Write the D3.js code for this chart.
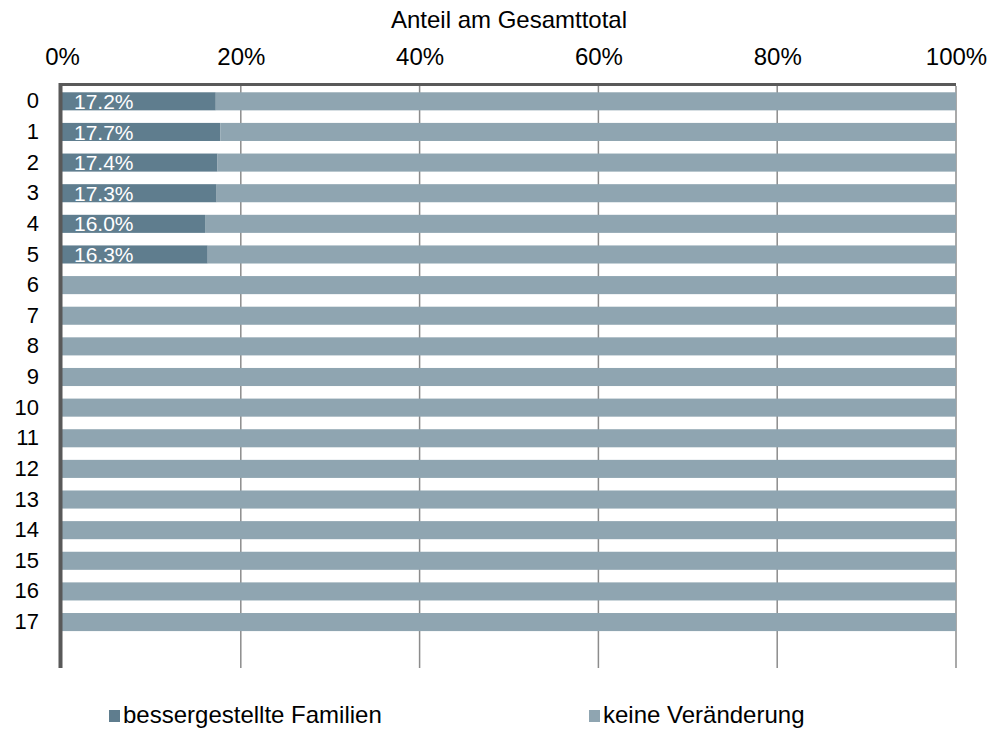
<!DOCTYPE html>
<html>
<head>
<meta charset="utf-8">
<script src="https://cdn.jsdelivr.net/npm/d3@7"></script>
<style>
  body { margin: 0; background: #fff; }
  svg text { font-family: "Liberation Sans", Arial, sans-serif; }
</style>
</head>
<body>
<svg id="chart"></svg>
<script>
// categories 0..17, plus an empty slot at the bottom like the original
const categories = ['0','1','2','3','4','5','6','7','8','9','10','11','12','13','14','15','16','17'];
const bessergestellt = [17.2, 17.7, 17.4, 17.3, 16.0, 16.3, null, null, null, null, null, null, null, null, null, null, null, null];
const keineVeraenderung = bessergestellt.map(v => 100 - (v || 0));
const xTicks = [0, 20, 40, 60, 80, 100];
const seriesNames = ['bessergestellte Familien', 'keine Veränderung'];
const colors = ['#5f7d8e', '#8fa5b1'];

const W = 997, H = 731;
const margin = { top: 86, right: 41, bottom: 63, left: 62 };
const width = W - margin.left - margin.right;
const height = H - margin.top - margin.bottom;

const svg = d3.select('#chart').attr('width', W).attr('height', H);
const g = svg.append('g').attr('transform', `translate(${margin.left},${margin.top})`);

const x = d3.scaleLinear().domain([0, 100]).range([0, width]);
const y = d3.scaleBand()
    .domain(categories.concat(['']))
    .range([0, height])
    .paddingInner(0.41)
    .paddingOuter(0.205);

// vertical grid lines
g.selectAll('.grid')
    .data(xTicks.slice(1))
    .enter()
    .append('line')
    .attr('x1', d => x(d)).attr('x2', d => x(d))
    .attr('y1', 0).attr('y2', height)
    .attr('stroke', '#8c8c8c')
    .attr('stroke-width', 1.5);

// top axis labels
g.append('g')
    .call(d3.axisTop(x).tickValues(xTicks).tickSize(0).tickPadding(21).tickFormat(d => `${d}%`))
    .call(ax => ax.select('.domain').remove())
    .call(ax => ax.selectAll('text').attr('font-size', '24px').attr('fill', '#000')
        .attr('font-family', '"Liberation Sans", Arial, sans-serif'));

// axis title
svg.append('text')
    .attr('x', margin.left + width / 2)
    .attr('y', 28)
    .attr('text-anchor', 'middle')
    .attr('font-size', '24px')
    .attr('fill', '#000')
    .text('Anteil am Gesamttotal');

// bars: dark part
g.selectAll('.bar-dark')
    .data(categories.map((c, i) => ({ c, v: bessergestellt[i] })).filter(d => d.v != null))
    .enter()
    .append('rect')
    .attr('x', x(0))
    .attr('y', d => y(d.c))
    .attr('width', d => x(d.v) - x(0))
    .attr('height', y.bandwidth())
    .attr('fill', colors[0]);

// bars: light part
g.selectAll('.bar-light')
    .data(categories.map((c, i) => ({ c, start: bessergestellt[i] || 0, v: keineVeraenderung[i] })))
    .enter()
    .append('rect')
    .attr('x', d => x(d.start))
    .attr('y', d => y(d.c))
    .attr('width', d => x(d.start + d.v) - x(d.start))
    .attr('height', y.bandwidth())
    .attr('fill', colors[1]);

// value labels
g.selectAll('.lbl')
    .data(categories.map((c, i) => ({ c, v: bessergestellt[i] })).filter(d => d.v != null))
    .enter()
    .append('text')
    .attr('x', x(0) + 12)
    .attr('y', d => y(d.c) + y.bandwidth() / 2)
    .attr('dy', '0.36em')
    .attr('font-size', '21px')
    .attr('fill', '#fff')
    .text(d => `${d.v.toFixed(1)}%`);

// category labels
g.append('g')
    .call(d3.axisLeft(y).tickValues(categories).tickSize(0).tickPadding(23))
    .call(ax => ax.select('.domain').remove())
    .call(ax => ax.selectAll('text').attr('font-size', '22px').attr('fill', '#000')
        .attr('font-family', '"Liberation Sans", Arial, sans-serif'));

// axis lines (top + left, thick dark gray)
g.append('line')
    .attr('x1', -3).attr('x2', width)
    .attr('y1', -1.5).attr('y2', -1.5)
    .attr('stroke', '#595959').attr('stroke-width', 3);
g.append('line')
    .attr('x1', -1.5).attr('x2', -1.5)
    .attr('y1', -3).attr('y2', height)
    .attr('stroke', '#595959').attr('stroke-width', 4);

// legend
const legendX = [109, 589];
const legend = svg.append('g').selectAll('g')
    .data(seriesNames)
    .enter()
    .append('g')
    .attr('transform', (d, i) => `translate(${legendX[i]},716)`);
legend.append('rect')
    .attr('x', 0).attr('y', -6)
    .attr('width', 11).attr('height', 12)
    .attr('fill', (d, i) => colors[i]);
legend.append('text')
    .attr('x', 14)
    .attr('y', 7)
    .attr('font-size', '24px')
    .attr('fill', '#000')
    .text(d => d);
</script>
</body>
</html>
